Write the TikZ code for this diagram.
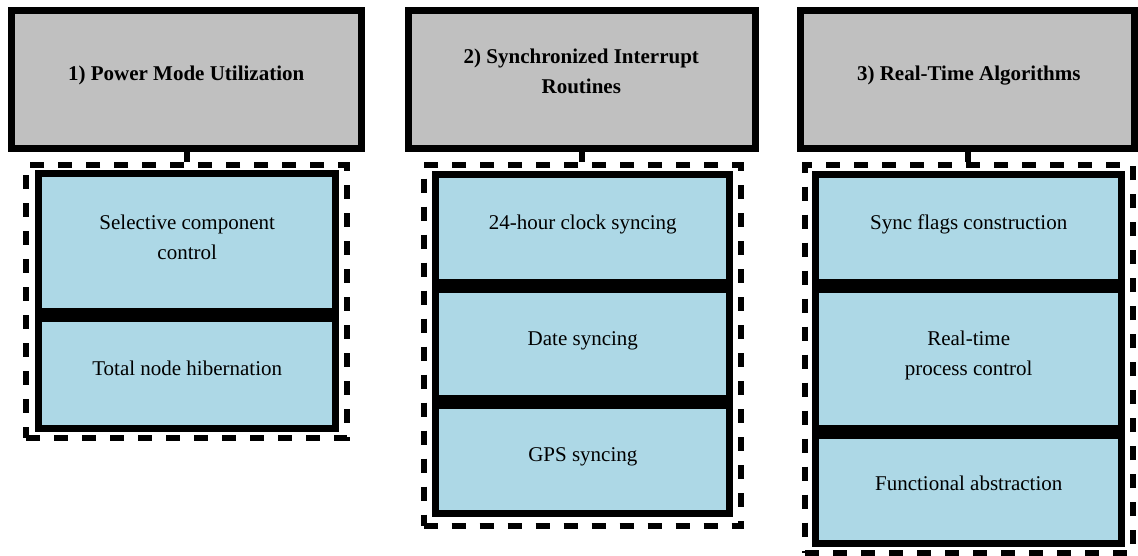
\documentclass[tikz,border=0pt]{standalone}
\usepackage{fontspec}
\setmainfont{Liberation Serif}
\definecolor{hdrgrey}{RGB}{192,192,192}
\definecolor{itemblue}{RGB}{173,216,230}
\begin{document}
\begin{tikzpicture}[x=1pt,y=-1pt,
  hdrbox/.style={draw=black, fill=hdrgrey, line width=7pt, rectangle, inner sep=0pt},
  itembox/.style={draw=black, fill=itemblue, line width=7pt, rectangle, inner sep=0pt},
  groupbox/.style={draw=black, line width=6pt, dash pattern=on 14pt off 14pt, rectangle, inner sep=0pt},
  link/.style={draw=black, line width=6pt},
  hdrtext/.style={font=\fontsize{21}{30}\selectfont\bfseries, align=center, anchor=base, inner sep=0pt},
  itemtext/.style={font=\fontsize{21}{30}\selectfont, align=center, anchor=base, inner sep=0pt}]
\useasboundingbox (0,0) rectangle (1138,555);
\fill[white] (0,0) rectangle (1138,555);

% group containers
\node[groupbox, minimum width=320.5pt, minimum height=273pt] (d1) at (186.25,301.5) {};
\node[groupbox, minimum width=317pt, minimum height=360.5pt] (d2) at (582,345.25) {};
\node[groupbox, minimum width=327.5pt, minimum height=387.5pt] (d3) at (968.75,358.75) {};

% headers
\node[hdrbox, minimum width=349.7pt, minimum height=138pt] (g1) at (186.7,79.2) {};
\node[hdrbox, minimum width=347.3pt, minimum height=138pt] (g2) at (582.2,79) {};
\node[hdrbox, minimum width=334.6pt, minimum height=138pt] (g3) at (967.5,79.2) {};

% items column 1
\node[itembox, minimum width=297.3pt, minimum height=138.3pt] (b1a) at (187.2,242.65) {};
\node[itembox, minimum width=297.3pt, minimum height=109.7pt] (b1b) at (187.2,373.65) {};
% items column 2
\node[itembox, minimum width=294pt, minimum height=108pt] (b2a) at (582.8,228.5) {};
\node[itembox, minimum width=294pt, minimum height=109pt] (b2b) at (582.8,344) {};
\node[itembox, minimum width=294pt, minimum height=108pt] (b2c) at (582.8,459.5) {};
% items column 3
\node[itembox, minimum width=305.7pt, minimum height=108pt] (b3a) at (968.65,228.5) {};
\node[itembox, minimum width=305.7pt, minimum height=139.3pt] (b3b) at (968.65,359.15) {};
\node[itembox, minimum width=305.7pt, minimum height=107.7pt] (b3c) at (968.65,489.65) {};

% connectors
\draw[link] (g1.south) -- (g1.south |- d1.north);
\draw[link] (g2.south) -- (g2.south |- d2.north);
\draw[link] (g3.south) -- (g3.south |- d3.north);

% texts (anchor=base refers to the last line)
\node[hdrtext] (h1) at (186.2,80) {1) Power Mode Utilization};
\node[hdrtext] (h2) at (581.3,93) {2) Synchronized Interrupt\\Routines};
\node[hdrtext] (h3) at (968.8,80) {3) Real-Time Algorithms};

\node[itemtext] (t1a) at (187.2,259) {Selective component\\control};
\node[itemtext] (t1b) at (187.2,375) {Total node hibernation};
\node[itemtext] (t2a) at (582.8,229.3) {24-hour clock syncing};
\node[itemtext] (t2b) at (582.8,345) {Date syncing};
\node[itemtext] (t2c) at (582.8,461) {GPS syncing};
\node[itemtext] (t3a) at (968.7,229.3) {Sync flags construction};
\node[itemtext] (t3b) at (968.7,375) {Real-time\\process control};
\node[itemtext] (t3c) at (968.7,490.7) {Functional abstraction};
\end{tikzpicture}
\end{document}
